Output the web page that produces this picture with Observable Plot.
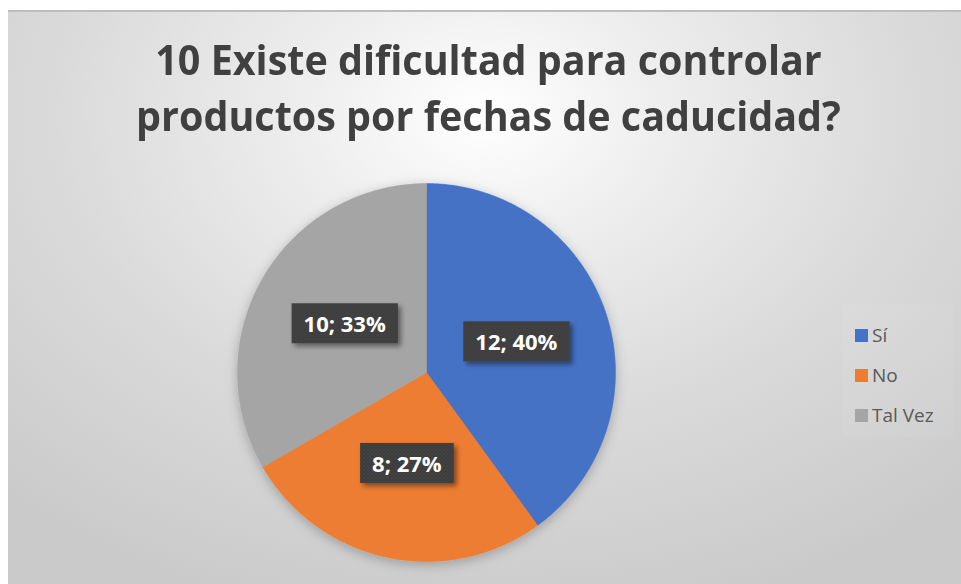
<!DOCTYPE html>
<html>
<head>
<meta charset="utf-8">
<script src="https://cdn.jsdelivr.net/npm/d3@7"></script>
<script src="https://cdn.jsdelivr.net/npm/@observablehq/plot@0.6"></script>
<style>
  html, body { margin: 0; padding: 0; background: #ffffff; }
  #wrap { position: relative; width: 961px; height: 584px; overflow: hidden; }
  #bg { position: absolute; left: 8px; top: 10px; right: 0; bottom: 0;
        border-top: 2px solid #bdbdbd;
        background: radial-gradient(ellipse 75% 90% at 50% 18%, #ffffff 0%, #eeeeee 25%, #dadada 60%, #cacaca 100%); }
  #title { position: absolute; left: 16px; right: 0; top: 31px; text-align: center;
           font-family: "Open Sans", sans-serif; font-weight: bold;
           font-size: 42px; line-height: 56px; color: #404040;
           transform: scaleX(0.94); transform-origin: 50% 0; white-space: nowrap; }
  #plot { position: absolute; left: 0; top: 0; }
  #legend { position: absolute; left: 843px; top: 303px; width: 110px; height: 134px;
            background: rgba(255,255,255,0.06); }
  .li { position: absolute; left: 12px; height: 20px; display: flex; align-items: center;
        font-family: "Open Sans", sans-serif; font-size: 19px; color: #595959; }
  .sw { width: 13px; height: 13px; margin-right: 4px; }
</style>
</head>
<body>
<div id="wrap">
  <div id="bg"></div>
  <div id="title">10 Existe dificultad para controlar<br>productos por fechas de caducidad?</div>
  <div id="plot"></div>
  <div id="legend"></div>
</div>
<script>
const categories = ["Sí", "No", "Tal Vez"];
const counts = [12, 8, 10];
const colors = ["#4472C4", "#ED7D31", "#A5A5A5"];

const total = d3.sum(counts);
const arcs = d3.pie().sort(null).startAngle(0).endAngle(2 * Math.PI)(counts);

// slice outlines (unit circle), derived from the data through d3.pie
const slicePts = [];
arcs.forEach((a, i) => {
  const cat = categories[i];
  slicePts.push({cat, x: 0, y: 0});
  const steps = Math.max(2, Math.ceil((a.endAngle - a.startAngle) / (Math.PI / 360)));
  for (let k = 0; k <= steps; k++) {
    const t = a.startAngle + (a.endAngle - a.startAngle) * k / steps;
    slicePts.push({cat, x: Math.sin(t), y: Math.cos(t)});
  }
  slicePts.push({cat, x: 0, y: 0});
});

const labels = arcs.map((a, i) => {
  const m = (a.startAngle + a.endAngle) / 2;
  return {
    cat: categories[i],
    x: 0.5 * Math.sin(m),
    y: 0.5 * Math.cos(m),
    text: `${counts[i]}; ${Math.round(counts[i] / total * 100)}%`
  };
});

const chart = Plot.plot({
  width: 961,
  height: 584,
  marginLeft: 237,
  marginRight: 346,
  marginTop: 183,
  marginBottom: 23,
  x: {domain: [-1, 1], axis: null},
  y: {domain: [-1, 1], axis: null},
  color: {domain: categories, range: colors},
  style: {background: "transparent", overflow: "visible"},
  marks: [
    Plot.line(slicePts, {x: "x", y: "y", z: "cat", fill: "cat", stroke: "cat", strokeWidth: 0.5, curve: "linear"}),
    Plot.text(labels, {x: "x", y: "y", text: "text", fill: "white", fontSize: 22, fontWeight: "bold",
                       fontFamily: "Open Sans, sans-serif"})
  ]
});
document.getElementById("plot").appendChild(chart);

// defs: dotted dark label background + shadows
const ns = "http://www.w3.org/2000/svg";
const defs = document.createElementNS(ns, "defs");
defs.innerHTML = `
  <pattern id="dots" width="4" height="4" patternUnits="userSpaceOnUse">
    <rect width="4" height="4" fill="#3d3d3d"/>
    <circle cx="1" cy="1" r="0.6" fill="#575757"/>
    <circle cx="3" cy="3" r="0.6" fill="#4e4e4e"/>
  </pattern>
  <filter id="lblShadow" x="-20%" y="-30%" width="150%" height="180%">
    <feDropShadow dx="3" dy="3" stdDeviation="2.5" flood-color="#000" flood-opacity="0.45"/>
  </filter>
  <filter id="pieShadow" x="-10%" y="-10%" width="120%" height="120%">
    <feDropShadow dx="0" dy="3" stdDeviation="6" flood-color="#000" flood-opacity="0.25"/>
  </filter>`;
chart.insertBefore(defs, chart.firstChild);

const lineG = chart.querySelector('g[aria-label="line"]');
if (lineG) lineG.setAttribute("filter", "url(#pieShadow)");

chart.querySelectorAll('g[aria-label="text"] text').forEach(t => {
  const b = t.getBBox();
  const r = document.createElementNS(ns, "rect");
  r.setAttribute("x", b.x - 12);
  r.setAttribute("y", b.y - 5);
  r.setAttribute("width", b.width + 24);
  r.setAttribute("height", b.height + 10);
  r.setAttribute("fill", "url(#dots)");
  r.setAttribute("filter", "url(#lblShadow)");
  if (t.getAttribute("transform")) r.setAttribute("transform", t.getAttribute("transform"));
  t.parentNode.insertBefore(r, t);
});

// legend
const legend = document.getElementById("legend");
categories.forEach((c, i) => {
  const d = document.createElement("div");
  d.className = "li";
  d.style.top = (22 + i * 40) + "px";
  d.innerHTML = `<span class="sw" style="background:${colors[i]}"></span><span>${c}</span>`;
  legend.appendChild(d);
});
</script>
</body>
</html>
